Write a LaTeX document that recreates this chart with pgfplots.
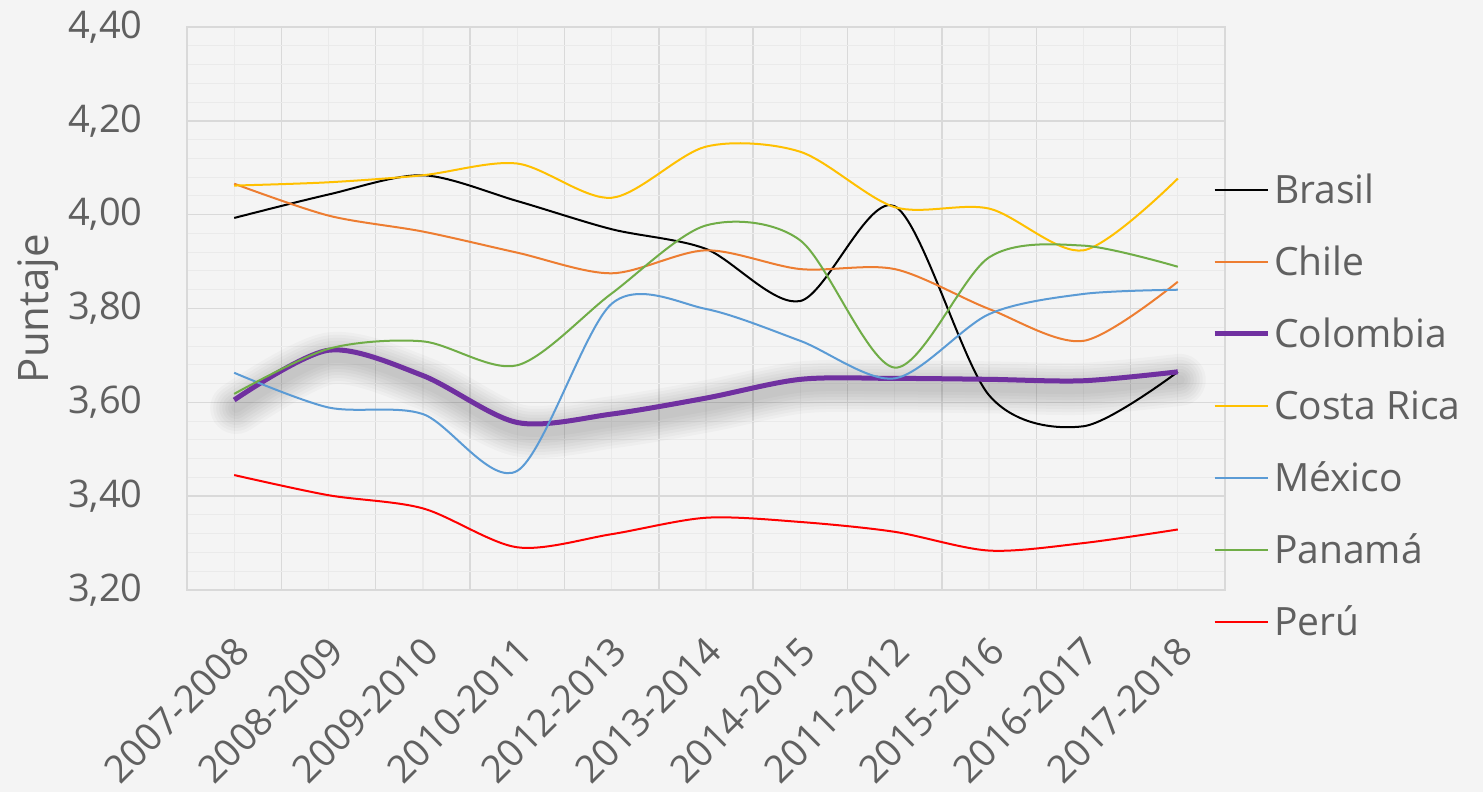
\documentclass[border=0pt]{standalone}
\usepackage{fontspec}
\setmainfont{Open Sans}
\usepackage{pgfplots}
\pgfplotsset{compat=1.18}
\definecolor{bg}{HTML}{F4F4F4}
\definecolor{gmaj}{HTML}{D9D9D9}
\definecolor{gmin}{HTML}{EAEAEA}
\definecolor{textc}{HTML}{606060}
\definecolor{cchile}{HTML}{ED7D31}
\definecolor{ccol}{HTML}{7030A0}
\definecolor{ccr}{HTML}{FFC000}
\definecolor{cmex}{HTML}{5B9BD5}
\definecolor{cpan}{HTML}{70AD47}
\definecolor{cper}{HTML}{FF0000}
\pgfplotsset{colshadow/.style={forget plot, black, opacity=0.025, line cap=round, line join=round, yshift=-4pt, xshift=1pt}}
\begin{document}
\begin{tikzpicture}
\useasboundingbox (-93.5pt,-101pt) rectangle (648pt,295pt);
\fill[bg] (-93.5pt,-101pt) rectangle (648pt,295pt);
\begin{axis}[
  at={(0pt,0pt)}, anchor=south west,
  scale only axis, width=519pt, height=281.5pt,
  xmin=-0.5, xmax=10.5, ymin=3.2, ymax=4.4,
  xtick={0,1,2,3,4,5,6,7,8,9,10},
  xticklabels={2007-2008,2008-2009,2009-2010,2010-2011,2012-2013,2013-2014,2014-2015,2011-2012,2015-2016,2016-2017,2017-2018},
  minor xtick={-0.5,0.5,1.5,2.5,3.5,4.5,5.5,6.5,7.5,8.5,9.5,10.5},
  ytick={3.2,3.4,3.6,3.8,4.0,4.2,4.4},
  minor y tick num=4,
  xmajorgrids, xminorgrids, ymajorgrids, yminorgrids,
  major x grid style={draw=gmin, line width=0.6pt},
  minor x grid style={draw=gmaj, line width=0.75pt},
  major y grid style={draw=gmaj, line width=0.75pt},
  minor y grid style={draw=gmin, line width=0.5pt},
  axis line style={draw=gmaj, line width=0.75pt},
  major tick length=0pt, minor tick length=0pt,
  tick style={draw=none},
  ticklabel style={font=\fontsize{19}{22}\selectfont, text=textc},
  yticklabel style={anchor=east, inner sep=0pt, xshift=-22pt,
    /pgf/number format/fixed, /pgf/number format/fixed zerofill,
    /pgf/number format/precision=2, /pgf/number format/use comma,
    /pgf/number format/assume math mode=true},
  xticklabel style={inner sep=0pt, yshift=-22pt, xshift=-1pt, rotate=45, anchor=north east},
  ylabel={Puntaje},
  ylabel style={at={(axis description cs:-0.1435,0.5)}, anchor=center,
    font=\fontsize{21}{24}\selectfont, text=textc},
  legend style={at={(rel axis cs:0.9875,0.327)}, anchor=west, draw=none, fill=none,
    font=\fontsize{19.5}{24}\selectfont, text=textc, inner sep=0pt, outer sep=0pt,
    row sep=22pt, column sep=2pt,
    nodes={inner sep=0pt, text height=14pt, text depth=0pt}},
  legend cell align=left,
  legend image code/.code={\draw[#1] (0pt,0pt) -- (26.5pt,0pt);},
  every axis plot/.append style={smooth, line join=round},
]
\addplot[black, line width=1pt] coordinates {(0,3.993) (1,4.043) (2,4.084) (3,4.029) (4,3.969) (5,3.927) (6,3.816) (7,4.018) (8,3.615) (9,3.549) (10,3.665)};
\addlegendentry{Brasil}
\addplot[cchile, line width=1pt] coordinates {(0,4.066) (1,3.998) (2,3.964) (3,3.919) (4,3.875) (5,3.924) (6,3.884) (7,3.884) (8,3.799) (9,3.731) (10,3.857)};
\addlegendentry{Chile}
\addplot[colshadow, line width=26pt] coordinates {(0,3.605) (1,3.711) (2,3.657) (3,3.557) (4,3.575) (5,3.609) (6,3.649) (7,3.651) (8,3.649) (9,3.646) (10,3.665)};
\addplot[colshadow, line width=23pt] coordinates {(0,3.605) (1,3.711) (2,3.657) (3,3.557) (4,3.575) (5,3.609) (6,3.649) (7,3.651) (8,3.649) (9,3.646) (10,3.665)};
\addplot[colshadow, line width=20pt] coordinates {(0,3.605) (1,3.711) (2,3.657) (3,3.557) (4,3.575) (5,3.609) (6,3.649) (7,3.651) (8,3.649) (9,3.646) (10,3.665)};
\addplot[colshadow, line width=17pt] coordinates {(0,3.605) (1,3.711) (2,3.657) (3,3.557) (4,3.575) (5,3.609) (6,3.649) (7,3.651) (8,3.649) (9,3.646) (10,3.665)};
\addplot[colshadow, line width=14pt] coordinates {(0,3.605) (1,3.711) (2,3.657) (3,3.557) (4,3.575) (5,3.609) (6,3.649) (7,3.651) (8,3.649) (9,3.646) (10,3.665)};
\addplot[colshadow, line width=11pt] coordinates {(0,3.605) (1,3.711) (2,3.657) (3,3.557) (4,3.575) (5,3.609) (6,3.649) (7,3.651) (8,3.649) (9,3.646) (10,3.665)};
\addplot[colshadow, line width=8pt] coordinates {(0,3.605) (1,3.711) (2,3.657) (3,3.557) (4,3.575) (5,3.609) (6,3.649) (7,3.651) (8,3.649) (9,3.646) (10,3.665)};
\addplot[colshadow, line width=5pt] coordinates {(0,3.605) (1,3.711) (2,3.657) (3,3.557) (4,3.575) (5,3.609) (6,3.649) (7,3.651) (8,3.649) (9,3.646) (10,3.665)};
\addplot[ccol, line width=2.5pt] coordinates {(0,3.605) (1,3.711) (2,3.657) (3,3.557) (4,3.575) (5,3.609) (6,3.649) (7,3.651) (8,3.649) (9,3.646) (10,3.665)};
\addlegendentry{Colombia}
\addplot[ccr, line width=1pt] coordinates {(0,4.062) (1,4.069) (2,4.084) (3,4.109) (4,4.036) (5,4.145) (6,4.134) (7,4.016) (8,4.013) (9,3.924) (10,4.077)};
\addlegendentry{Costa Rica}
\addplot[cmex, line width=1pt] coordinates {(0,3.663) (1,3.589) (2,3.575) (3,3.454) (4,3.810) (5,3.799) (6,3.731) (7,3.651) (8,3.788) (9,3.831) (10,3.840)};
\addlegendentry{México}
\addplot[cpan, line width=1pt] coordinates {(0,3.618) (1,3.714) (2,3.730) (3,3.679) (4,3.832) (5,3.977) (6,3.945) (7,3.674) (8,3.909) (9,3.934) (10,3.889)};
\addlegendentry{Panamá}
\addplot[cper, line width=1pt] coordinates {(0,3.445) (1,3.402) (2,3.374) (3,3.291) (4,3.319) (5,3.354) (6,3.345) (7,3.324) (8,3.284) (9,3.300) (10,3.329)};
\addlegendentry{Perú}
\end{axis}
\end{tikzpicture}
\end{document}
